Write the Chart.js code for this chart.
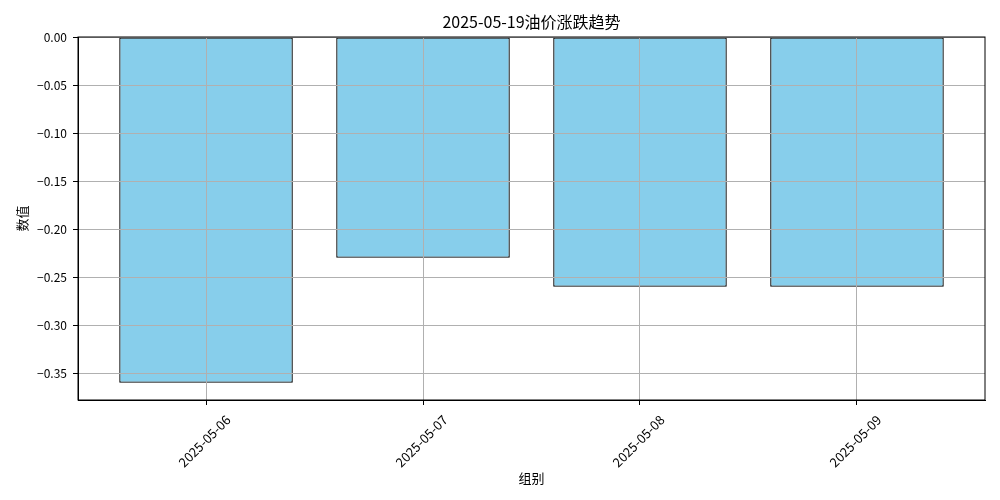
<!DOCTYPE html>
<html>
<head>
<meta charset="utf-8">
<script src="https://cdn.jsdelivr.net/npm/chart.js@4.4.1/dist/chart.umd.min.js"></script>
<style>
  html, body { margin: 0; padding: 0; background: #fff; }
  #wrap { width: 1000px; height: 500px; }
</style>
</head>
<body>
<div id="wrap"><canvas id="myChart" width="1000" height="500"></canvas></div>
<script>
// データ
const chartTitle = '2025-05-19油价涨跌趋势';
const categories = [ '2025-05-06', '2025-05-07', '2025-05-08', '2025-05-09' ];
const changes = [ -0.36, -0.23, -0.26, -0.26 ];
const yTicks = [ 0, -0.05, -0.10, -0.15, -0.20, -0.25, -0.30, -0.35 ];

const FONT = "'Noto Sans CJK SC', 'DejaVu Sans', sans-serif";

// 枠線（上・右）とタイトル（プロット領域の中央）を描く
const framePlugin = {
    id: 'frame',
    afterDraw( chart ) {
        const { ctx, chartArea: a } = chart;
        ctx.save();
        ctx.strokeStyle = '#000';
        ctx.lineWidth = 1;
        ctx.strokeRect( a.left, a.top, a.right - a.left, a.bottom - a.top );
        ctx.fillStyle = '#000';
        ctx.font = '16px ' + FONT;
        ctx.textAlign = 'center';
        ctx.textBaseline = 'middle';
        ctx.fillText( chartTitle, ( a.left + a.right ) / 2, 22 );
        ctx.restore();
    }
};

const ctx = document.getElementById( 'myChart' ).getContext( '2d' );

new Chart( ctx, {
    type: 'bar',
    data: {
        datasets: [{
            data: categories.map( ( c, i ) => ( { x: i, y: changes[ i ] } ) ),
            backgroundColor: '#87CEEB',
            borderColor: '#000',
            borderWidth: 1.3,
            borderSkipped: false,
            categoryPercentage: 1,
            barPercentage: 0.8
        }]
    },
    options: {
        responsive: false,
        animation: false,
        layout: { padding: { left: 0, right: 15, top: 37, bottom: 0 } },
        plugins: {
            legend: { display: false },
            tooltip: { enabled: false },
            title: { display: false }
        },
        scales: {
            x: {
                type: 'linear',
                min: -0.59,
                max: 3.59,
                offset: false,
                afterFit: ( scale ) => { scale.height = 100; },
                afterBuildTicks: ( scale ) => {
                    scale.ticks = categories.map( ( c, i ) => ( { value: i } ) );
                },
                ticks: {
                    callback: ( v ) => categories[ v ],
                    color: '#000',
                    font: { family: FONT, size: 13 },
                    minRotation: 45,
                    maxRotation: 45,
                    labelOffset: 22,
                    padding: 7
                },
                grid: { offset: false, color: '#b0b0b0', lineWidth: 1, tickLength: 5, tickColor: '#000', z: 1 },
                border: { color: '#000', width: 1, z: 1 },
                title: {
                    display: true,
                    text: '组别',
                    color: '#000',
                    font: { family: FONT, size: 13 },
                    padding: { top: 0, bottom: 14 }
                }
            },
            y: {
                min: -0.378,
                max: 0,
                afterFit: ( scale ) => { scale.width = 78; },
                afterBuildTicks: ( scale ) => {
                    scale.ticks = yTicks.map( v => ( { value: v } ) );
                },
                ticks: {
                    callback: ( v ) => ( v < 0 ? '\u2212' : '' ) + Math.abs( v ).toFixed( 2 ),
                    color: '#000',
                    font: { family: FONT, size: 12 },
                    padding: 6
                },
                grid: { color: '#b0b0b0', lineWidth: 1, tickLength: 5, tickColor: '#000', z: 1 },
                border: { color: '#000', width: 1, z: 1 },
                title: {
                    display: true,
                    text: '数值',
                    color: '#000',
                    font: { family: FONT, size: 13 },
                    padding: { top: 14, bottom: 0 }
                }
            }
        }
    },
    plugins: [ framePlugin ]
});
</script>
</body>
</html>
